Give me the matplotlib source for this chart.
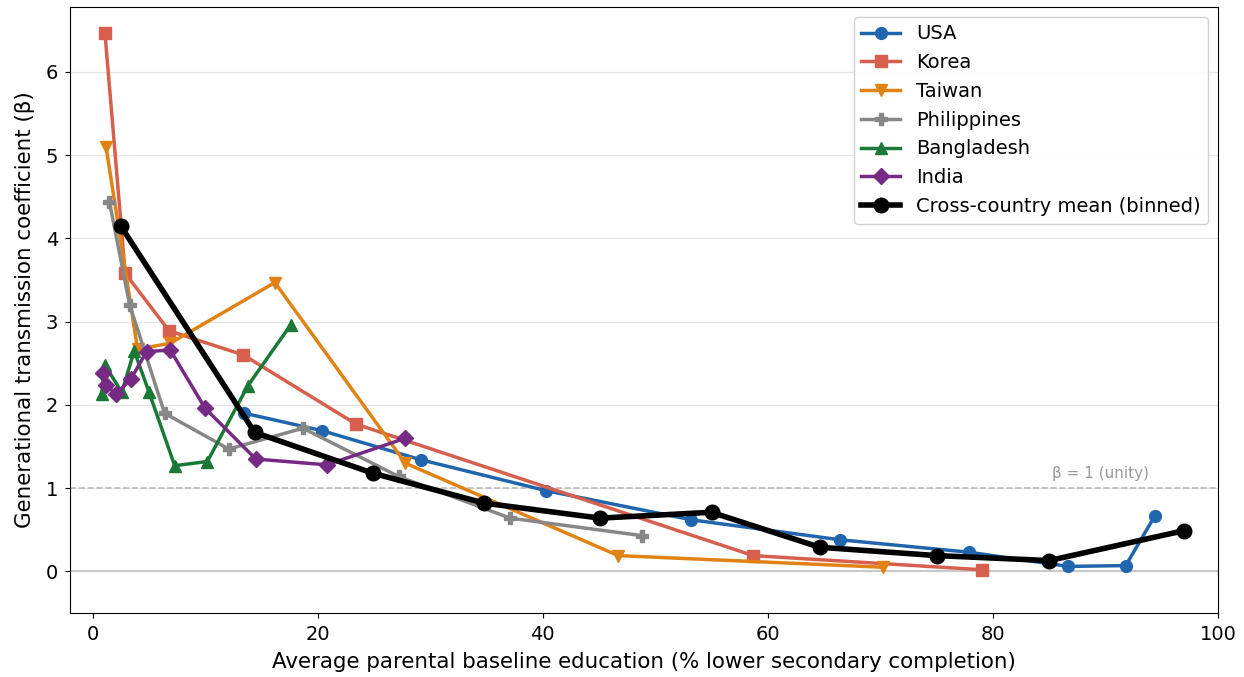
import matplotlib
matplotlib.use("Agg")
import matplotlib.pyplot as plt

usa_x = [13.5, 20.4, 29.2, 40.3, 53.2, 66.4, 77.9, 86.7, 91.8, 94.4]
usa_y = [1.90, 1.69, 1.34, 0.97, 0.62, 0.38, 0.23, 0.06, 0.07, 0.67]

korea_x = [1.1, 2.9, 6.8, 13.4, 23.4, 58.7, 79.0]
korea_y = [6.47, 3.58, 2.89, 2.60, 1.77, 0.19, 0.02]

taiwan_x = [1.2, 4.0, 6.9, 16.2, 27.8, 46.7, 70.2]
taiwan_y = [5.10, 2.67, 2.74, 3.47, 1.30, 0.19, 0.05]

phil_x = [1.5, 3.3, 6.4, 12.1, 18.7, 27.2, 37.1, 48.8]
phil_y = [4.44, 3.20, 1.90, 1.47, 1.72, 1.14, 0.64, 0.43]

bang_x = [0.8, 1.1, 2.6, 3.7, 5.0, 7.3, 10.2, 13.8, 17.6]
bang_y = [2.13, 2.48, 2.15, 2.65, 2.16, 1.27, 1.32, 2.23, 2.96]

india_x = [0.9, 1.2, 2.1, 3.4, 4.8, 6.9, 10.0, 14.5, 20.8, 27.8]
india_y = [2.38, 2.24, 2.13, 2.31, 2.64, 2.66, 1.96, 1.35, 1.28, 1.60]

mean_x = [2.5, 14.4, 24.9, 34.8, 45.1, 55.0, 64.6, 75.0, 85.0, 97.0]
mean_y = [4.15, 1.67, 1.18, 0.82, 0.64, 0.71, 0.29, 0.19, 0.13, 0.49]

series = [
    ("USA", usa_x, usa_y, "#2166ac", "o", 8.5),
    ("Korea", korea_x, korea_y, "#d6604d", "s", 8.5),
    ("Taiwan", taiwan_x, taiwan_y, "#e08214", "v", 8.5),
    ("Philippines", phil_x, phil_y, "#878787", "P", 8.5),
    ("Bangladesh", bang_x, bang_y, "#1b7837", "^", 8.5),
    ("India", india_x, india_y, "#762a83", "D", 8.5),
]

fig = plt.figure(figsize=(12.44, 6.77), dpi=100)
ax = fig.add_axes([0.0563, 0.0945, 0.9228, 0.8952])

ax.axhline(0, color="#c8c8c8", lw=1.5, zorder=1)
ax.axhline(1, color="#bbbbbb", lw=1.2, ls="--", zorder=1)
ax.text(93.9, 1.08, "β = 1 (unity)", color="#999999", fontsize=11,
        ha="right", va="bottom")

for name, xs, ys, c, m, ms in series:
    ax.plot(xs, ys, color=c, marker=m, ms=ms, lw=2.5, label=name, zorder=3)

ax.plot(mean_x, mean_y, color="black", marker="o", ms=10.5, lw=4,
        label="Cross-country mean (binned)", zorder=4)

ax.set_xlim(-2, 100)
ax.set_ylim(-0.5, 6.78)
ax.set_yticks(range(0, 7))
ax.set_xticks([0, 20, 40, 60, 80, 100])
ax.grid(axis="y", color="#e6e6e6", lw=0.9)
ax.set_axisbelow(True)
ax.tick_params(labelsize=14, pad=5)
ax.set_xlabel("Average parental baseline education (% lower secondary completion)",
              fontsize=15.4, labelpad=6)
ax.set_ylabel("Generational transmission coefficient (β)", fontsize=15.4, labelpad=8)
ax.legend(loc="upper right", fontsize=14, framealpha=0.9, borderaxespad=0.5,
          handlelength=2.0)

fig.savefig("out.png", dpi=100)
